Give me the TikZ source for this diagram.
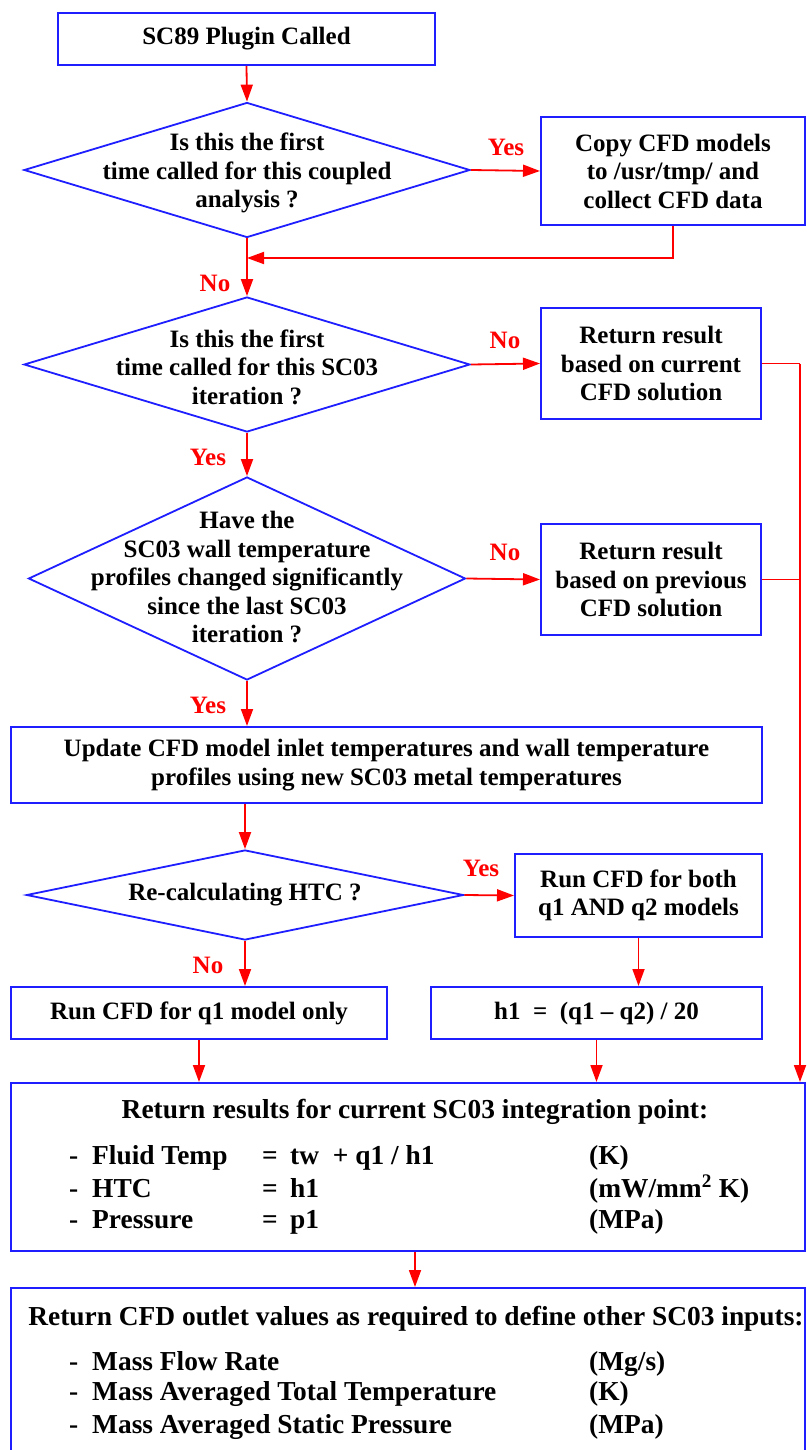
\documentclass[tikz,border=0pt]{standalone}
\usepackage{fontspec}
\setmainfont{Liberation Serif}
\usetikzlibrary{shapes.geometric,arrows.meta,calc}
\definecolor{bl}{RGB}{30,30,255}
\definecolor{rd}{RGB}{255,0,0}
\newcommand\myfs{\fontsize{25}{28.5}\selectfont\bfseries}
\newcommand\mybigfs{\fontsize{27.4}{32}\selectfont\bfseries}
\begin{document}
\begin{tikzpicture}[x=1pt,y=-1pt,
  box/.style={draw=bl, line width=2pt, rectangle, inner sep=0pt, font=\myfs, align=center},
  dia/.style={draw=bl, line width=1.8pt, diamond, inner sep=0pt},
  txt/.style={font=\myfs, align=center, inner sep=0pt},
  btxt/.style={font=\mybigfs, align=center, inner sep=0pt},
  lab/.style={font=\myfs, text=rd, inner sep=0pt},
  ln/.style={draw=rd, line width=1.8pt},
  arr/.style={draw=rd, line width=1.8pt, -{Triangle[length=17pt,width=12pt]}},
  item/.style={font=\mybigfs, anchor=base west, inner sep=0pt}]
\useasboundingbox (0,0) rectangle (806,1450);
\fill[white] (0,0) rectangle (806,1450);

% boxes
\node[box, minimum width=377, minimum height=52] (top) at (246.5,39) {SC89 Plugin Called};
\node[dia, minimum width=446, minimum height=135] (d1) at (247,170) {};
\node[txt] (d1t) at (247,173) {Is this the first\\time called for this coupled\\analysis ?};
\node[box, minimum width=264, minimum height=108] (copy) at (673,171) {Copy CFD models\\to /usr/tmp/ and\\collect CFD data};

\node[dia, minimum width=446, minimum height=135] (d2) at (247,364.5) {};
\node[txt] (d2t) at (247,367) {Is this the first\\time called for this SC03\\iteration ?};
\node[box, minimum width=220, minimum height=111] (b2) at (651,363.5) {Return result\\based on current\\CFD solution};

\node[dia, minimum width=437, minimum height=203] (d3) at (247,578.5) {};
\node[txt] (d3t) at (247,577) {Have the\\SC03 wall temperature\\profiles changed significantly\\since the last SC03\\iteration ?};
\node[box, minimum width=220, minimum height=111] (b3) at (651,579.5) {Return result\\based on previous\\CFD solution};

\node[box, minimum width=751, minimum height=76] (upd) at (386.5,765) {Update CFD model inlet temperatures and wall temperature\\profiles using new SC03 metal temperatures};

\node[dia, minimum width=437, minimum height=90] (d4) at (245,895) {};
\node[txt] (d4t) at (245,895) {Re-calculating HTC ?};
\node[box, minimum width=247, minimum height=83] (b4) at (638.5,895.5) {Run CFD for both\\q1 AND q2 models};

\node[box, minimum width=376, minimum height=52] (bL) at (199,1013) {Run CFD for q1 model only};
\node[box, minimum width=331, minimum height=52] (bR) at (596.5,1013) {h1 \ = \ (q1 -- q2) / 20};

\node[box, minimum width=794, minimum height=168] (res) at (408,1167) {};
\node[box, minimum width=794, minimum height=180] (last) at (408,1378) {};

% texts in result box
\node[btxt, anchor=base] (rt) at (415,1118) {Return results for current SC03 integration point:};
\node[item] (r1a) at (69,1164) {-};
\node[item] (r1b) at (92,1164) {Fluid Temp};
\node[item] (r1e) at (262,1164) {=};
\node[item] (r1c) at (290,1164) {tw \ + q1 / h1};
\node[item] (r1d) at (589,1164) {(K)};
\node[item] (r2a) at (69,1197) {-};
\node[item] (r2b) at (92,1197) {HTC};
\node[item] (r2e) at (262,1197) {=};
\node[item] (r2c) at (290,1197) {h1};
\node[item] (r2d) at (589,1197) {(mW/mm\textsuperscript{2} K)};
\node[item] (r3a) at (69,1228) {-};
\node[item] (r3b) at (92,1228) {Pressure};
\node[item] (r3e) at (262,1228) {=};
\node[item] (r3c) at (290,1228) {p1};
\node[item] (r3d) at (589,1228) {(MPa)};

% texts in last box
\node[btxt, anchor=base] (lt) at (416,1325) {Return CFD outlet values as required to define other SC03 inputs:};
\node[item] (l1a) at (69,1370) {-};
\node[item] (l1b) at (92,1370) {Mass Flow Rate};
\node[item] (l1d) at (589,1370) {(Mg/s)};
\node[item] (l2a) at (69,1400) {-};
\node[item] (l2b) at (92,1400) {Mass Averaged Total Temperature};
\node[item] (l2d) at (589,1400) {(K)};
\node[item] (l3a) at (69,1433) {-};
\node[item] (l3b) at (92,1433) {Mass Averaged Static Pressure};
\node[item] (l3d) at (589,1433) {(MPa)};

% connectors
\draw[arr] (top.south) -- (d1.north);
\draw[arr] (d1.east) -- (copy.west);
\node[lab] (y1) at (506,147) {Yes};
\coordinate (j1) at (d1.south |- 0,258);
\draw[arr] (copy.south) |- (j1);
\draw[arr] (d1.south) -- (d2.north);
\node[lab] (n1) at (215,283) {No};

\draw[arr] (d2.east) -- (b2.west);
\node[lab] (n2) at (505,340) {No};
\draw[arr] (d2.south) -- (d3.north);
\node[lab] (y2) at (208,457) {Yes};

\draw[arr] (d3.east) -- (b3.west);
\node[lab] (n3) at (505,552) {No};
\draw[arr] (d3.south) -- (d3.south |- upd.north);
\node[lab] (y3) at (208,705) {Yes};

\coordinate (c1) at (800,363.5);
\coordinate (c2) at (800,579.5);
\draw[ln] (b2.east) -- (c1);
\draw[ln] (b3.east) -- (c2);
\draw[arr] (c1) -- (c1 |- res.north);

\draw[arr] (upd.south -| d4.north) -- (d4.north);
\draw[arr] (d4.east) -- (b4.west);
\node[lab] (y4) at (481,868) {Yes};
\draw[arr] (d4.south) -- (d4.south |- bL.north);
\node[lab] (n4) at (208,965) {No};
\draw[arr] (b4.south) -- (b4.south |- bR.north);

\draw[arr] (bL.south) -- (bL.south |- res.north);
\draw[arr] (bR.south) -- (bR.south |- res.north);
\draw[arr] ([xshift=7pt]res.south) -- ([xshift=7pt]res.south |- last.north);
\end{tikzpicture}
\end{document}
